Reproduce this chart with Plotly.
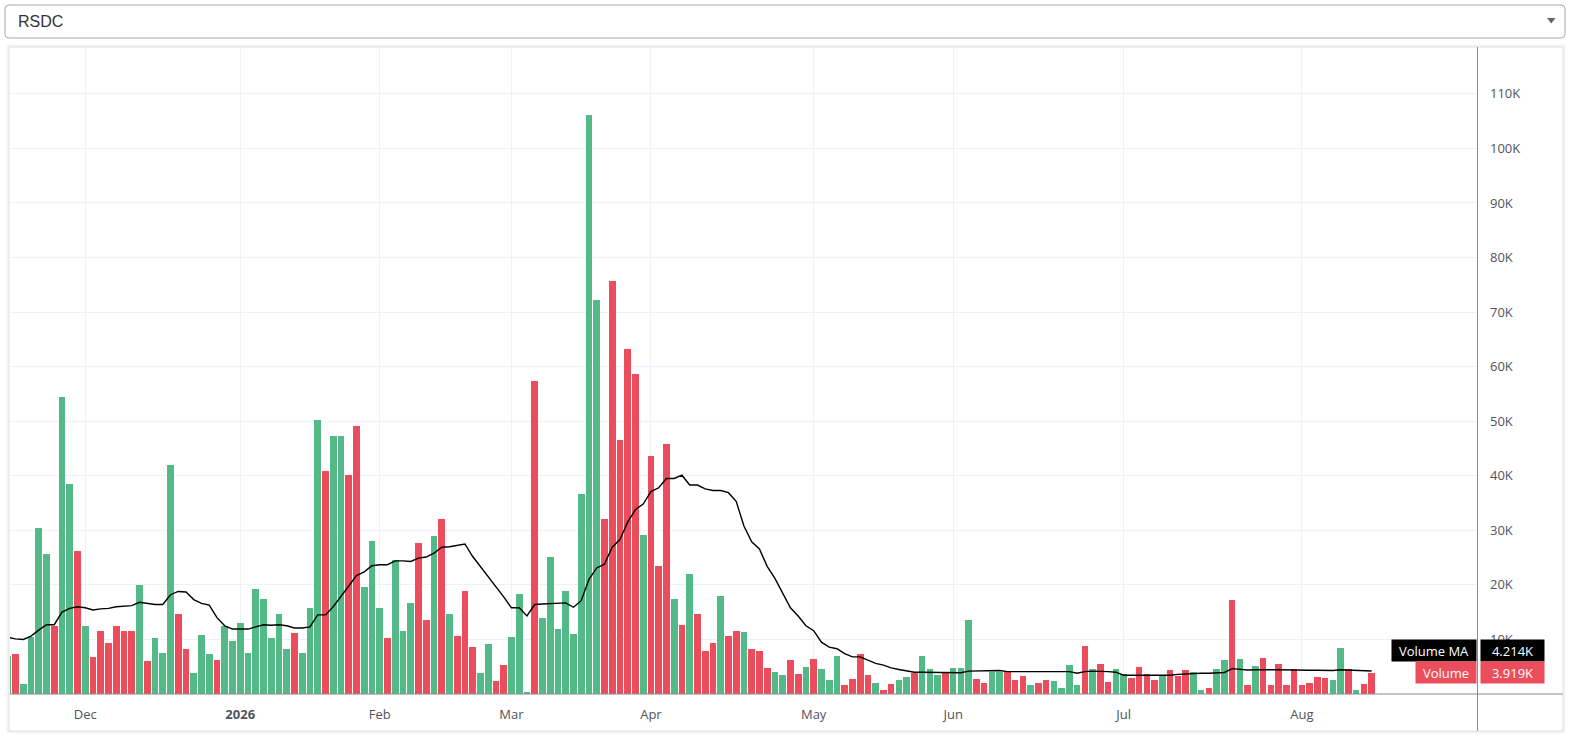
import plotly.graph_objects as go

# ---------------- data ----------------
ticker = "RSDC"

# daily volume, in thousands of shares
volume_k = [
    6.9, 7.4, 1.9, 10.4, 30.5, 25.6, 12.5, 54.5, 38.4, 26.3,
    12.4, 6.7, 11.5, 9.4, 12.4, 11.6, 11.6, 19.9, 6.0, 10.2,
    7.6, 41.9, 14.6, 8.2, 3.9, 10.9, 7.4, 6.3, 12.5, 9.8,
    13.1, 7.6, 19.3, 17.5, 10.2, 14.6, 8.2, 11.1, 7.6, 15.8,
    50.3, 40.8, 47.2, 47.2, 40.2, 49.2, 19.7, 28.1, 15.8, 10.2,
    24.6, 11.6, 16.6, 27.7, 13.6, 29.0, 32.0, 14.6, 10.7, 18.8,
    8.7, 3.9, 9.25, 2.3, 5.4, 10.5, 18.4, 0.3, 57.4, 14.0,
    25.2, 11.9, 18.8, 11.0, 36.6, 106.2, 72.2, 32.0, 75.7, 46.5,
    63.2, 58.7, 29.2, 43.6, 23.5, 45.9, 17.4, 12.7, 22.0, 14.7,
    7.9, 9.4, 18.0, 10.6, 11.5, 11.3, 8.3, 7.8, 4.7, 4.1,
    3.4, 6.3, 3.75, 5.0, 6.5, 4.5, 2.5, 7.05, 1.6, 2.8,
    7.4, 3.4, 2.1, 0.8, 1.9, 2.6, 3.2, 3.9, 7.05, 4.5,
    3.4, 3.9, 4.7, 4.85, 13.5, 2.8, 2.1, 4.1, 4.1, 4.3,
    2.6, 3.35, 1.7, 2.0, 2.6, 2.4, 1.1, 5.3, 1.7, 8.8,
    4.6, 5.5, 2.2, 4.6, 3.7, 3.0, 4.9, 3.7, 2.6, 3.5,
    4.4, 3.35, 4.4, 4.0, 0.7, 1.1, 4.6, 6.2, 17.2, 6.4,
    1.7, 5.1, 6.6, 1.7, 5.5, 1.7, 4.6, 1.7, 2.0, 3.1,
    3.0, 2.6, 8.4, 4.6, 0.7, 1.8, 3.919,
]

# up (G) / down (R) day for each bar
direction = list(
    "GRGGGGRGGR" "GRRRRRRGRG" "GGRRGGGRGG" "GGGGGGGRGG" "GRGGRRGGGR"
    "GGGRRGRGRR" "RGGRRGGGRG" "GGGGGGGRRR" "RRGRRRGRGR" "RRGRRGRRRG"
    "GRRGRGGGRR" "RRGRRGGRGG" "GRGGGRRGGR" "RRGRRGGGGR" "GRRGGRRRRG"
    "RRRGGRGGRG" "RGRRRRRRRR" "RGGRGRR"
)

# volume moving average, in thousands
ma_k = [
    10.4, 10.1, 10.0, 10.6, 11.7, 12.7, 12.7, 15.0, 15.7, 16.0,
    15.8, 15.4, 15.6, 15.7, 16.0, 16.1, 16.2, 16.8, 16.6, 16.4,
    16.4, 18.2, 18.8, 18.7, 17.3, 16.6, 16.3, 14.0, 12.5, 11.9,
    11.9, 11.9, 12.3, 12.7, 12.6, 12.7, 12.5, 12.1, 12.1, 12.3,
    14.5, 14.5, 16.0, 17.8, 19.8, 21.7, 22.4, 23.5, 23.7, 23.7,
    24.4, 24.4, 24.3, 24.9, 25.1, 25.8, 26.9, 27.0, 27.2, 27.5,
    25.2, 23.4, 21.6, 19.6, 17.8, 15.8, 15.8, 14.3, 16.4, 16.5,
    16.6, 16.6, 16.7, 15.9, 17.1, 21.0, 23.1, 23.8, 26.9, 28.3,
    31.5, 33.8, 34.8, 37.1, 37.8, 39.5, 39.5, 40.1, 38.3, 38.3,
    37.6, 37.3, 37.3, 36.9, 35.3, 30.8, 27.9, 26.6, 23.4, 21.2,
    18.4, 15.8, 14.3, 12.5, 11.6, 9.5, 8.6, 8.3, 7.4, 6.8,
    6.8, 6.2, 5.6, 5.3, 4.8, 4.5, 4.2, 4.0, 4.0, 4.0,
    4.0, 3.9, 3.9, 3.9, 4.2, 4.2, 4.2, 4.2, 4.3, 4.1,
    4.1, 4.1, 4.1, 4.1, 4.1, 4.1, 4.1, 4.1, 3.8, 4.1,
    4.2, 4.2, 4.1, 4.0, 3.45, 3.45, 3.45, 3.45, 3.45, 3.45,
    3.45, 3.6, 3.7, 3.8, 3.8, 3.8, 3.9, 3.95, 4.65, 4.5,
    4.4, 4.45, 4.5, 4.45, 4.45, 4.4, 4.4, 4.4, 4.35, 4.35,
    4.3, 4.3, 4.45, 4.4, 4.35, 4.3, 4.214,
]

# time axis: index of the first bar of each labelled month
month_start_index = [10, 30, 48, 65, 83, 104, 122, 144, 167]
month_labels = ["Dec", "<b>2026</b>", "Feb", "Mar", "Apr", "May", "Jun", "Jul", "Aug"]

# volume axis ticks (thousands)
y_tick_values = [10, 20, 30, 40, 50, 60, 70, 80, 90, 100, 110]
y_tick_labels = ["10K", "20K", "30K", "40K", "50K", "60K", "70K", "80K", "90K", "100K", "110K"]

# ---------------- styling ----------------
GREEN = "#53b987"
RED = "#eb4d5c"
GRID = "#eff1f8"
AXIS = "#8a8a90"
TEXT = "#50535e"
FONT = "Open Sans"

W, H = 1571, 738
L, R, T, B = 10, 94, 48, 44
PW, PH = W - L - R, H - T - B


def px(xp):
    return (xp - L) / PW


def py(yp):
    return (H - B - yp) / PH


def rrect(x0, y0, x1, y1, r):
    return (
        f"M {px(x0 + r)},{py(y0)} L {px(x1 - r)},{py(y0)} "
        f"Q {px(x1)},{py(y0)} {px(x1)},{py(y0 + r)} "
        f"L {px(x1)},{py(y1 - r)} Q {px(x1)},{py(y1)} {px(x1 - r)},{py(y1)} "
        f"L {px(x0 + r)},{py(y1)} Q {px(x0)},{py(y1)} {px(x0)},{py(y1 - r)} "
        f"L {px(x0)},{py(y0 + r)} Q {px(x0)},{py(y0)} {px(x0 + r)},{py(y0)} Z"
    )


x_idx = list(range(len(volume_k)))
bar_colors = [GREEN if d == "G" else RED for d in direction]

fig = go.Figure()
fig.add_trace(
    go.Bar(
        x=x_idx,
        y=volume_k,
        marker=dict(color=bar_colors, line=dict(width=0)),
        width=0.86,
        name="Volume",
    )
)
fig.add_trace(
    go.Scatter(
        x=x_idx,
        y=ma_k,
        mode="lines",
        line=dict(color="#000000", width=1.4),
        name="Volume MA",
    )
)

shapes = []
# card with soft shadow
for off, alpha in [(2, 0.03), (1, 0.06), (0, 0.11)]:
    shapes.append(
        dict(
            type="rect", xref="paper", yref="paper", layer="below",
            x0=px(9 - off), x1=px(1563 + off), y0=py(731 + off), y1=py(47 - off),
            line=dict(color=f"rgba(0,0,0,{alpha})", width=1),
            fillcolor="white",
        )
    )
# dropdown box
shapes.append(
    dict(type="path", xref="paper", yref="paper", path=rrect(5, 5, 1565, 38, 4),
         line=dict(color="#a9a9a9", width=1), fillcolor="white", layer="above")
)
# dropdown arrow
shapes.append(
    dict(type="path", xref="paper", yref="paper",
         path=f"M {px(1547)},{py(18)} L {px(1555.5)},{py(18)} L {px(1551.25)},{py(23.5)} Z",
         line=dict(width=0), fillcolor="#666666")
)
# time axis baseline
shapes.append(
    dict(type="line", xref="paper", yref="paper", x0=px(10), x1=px(1563), y0=0, y1=0,
         line=dict(color=AXIS, width=1))
)
# price axis separator
shapes.append(
    dict(type="line", xref="paper", yref="paper", x0=px(1477.5), x1=px(1477.5),
         y0=py(731), y1=py(47), line=dict(color=AXIS, width=1))
)

annotations = [
    dict(xref="paper", yref="paper", x=px(16), y=py(21.5), xanchor="left", yanchor="middle",
         text=ticker, showarrow=False,
         font=dict(family="Liberation Sans, Arial", size=16, color="#333333")),
]
ma_last = ma_k[-1]
vol_last = volume_k[-1]
label_font = dict(family=FONT, size=13, color="white")
annotations += [
    dict(xref="paper", yref="y", x=1, y=ma_last, xanchor="right", yanchor="middle",
         xshift=0, yshift=21, text="Volume MA", showarrow=False, font=label_font,
         bgcolor="#000000", borderpad=2, width=80, height=17),
    dict(xref="paper", yref="y", x=1, y=ma_last, xanchor="left", yanchor="middle",
         xshift=3, yshift=21, text=f"{ma_last:.3f}K", showarrow=False, font=label_font,
         bgcolor="#000000", borderpad=2, width=59, height=17),
    dict(xref="paper", yref="y", x=1, y=vol_last, xanchor="right", yanchor="middle",
         xshift=0, yshift=0, text="Volume", showarrow=False, font=label_font,
         bgcolor=RED, borderpad=2, width=56, height=17),
    dict(xref="paper", yref="y", x=1, y=vol_last, xanchor="left", yanchor="middle",
         xshift=3, yshift=0, text=f"{vol_last:.3f}K", showarrow=False, font=label_font,
         bgcolor=RED, borderpad=2, width=59, height=17),
]

y_top = PH / 5.456

fig.update_layout(
    width=W, height=H,
    margin=dict(l=L, r=R, t=T, b=B, pad=0),
    paper_bgcolor="white", plot_bgcolor="white",
    showlegend=False, hovermode=False, bargap=0,
    font=dict(family=FONT, size=13, color=TEXT),
    shapes=shapes, annotations=annotations,
    xaxis=dict(
        range=[0.29, 189.6], tickmode="array", tickvals=month_start_index,
        ticktext=month_labels, showgrid=True, gridcolor=GRID, gridwidth=1,
        zeroline=False, showline=False, ticks="", ticklabelstandoff=11,
        tickfont=dict(family=FONT, size=13, color=TEXT), fixedrange=True,
    ),
    yaxis=dict(
        range=[0, y_top], side="right", tickmode="array", tickvals=y_tick_values,
        ticktext=y_tick_labels, showgrid=True, gridcolor=GRID, gridwidth=1,
        zeroline=False, showline=False, ticks="", ticklabelstandoff=12,
        tickfont=dict(family=FONT, size=13, color=TEXT), fixedrange=True,
    ),
)

fig.write_html(
    "out.html",
    config={"displayModeBar": False},
    post_script="document.body.style.margin='0';document.body.style.overflow='hidden';",
)
